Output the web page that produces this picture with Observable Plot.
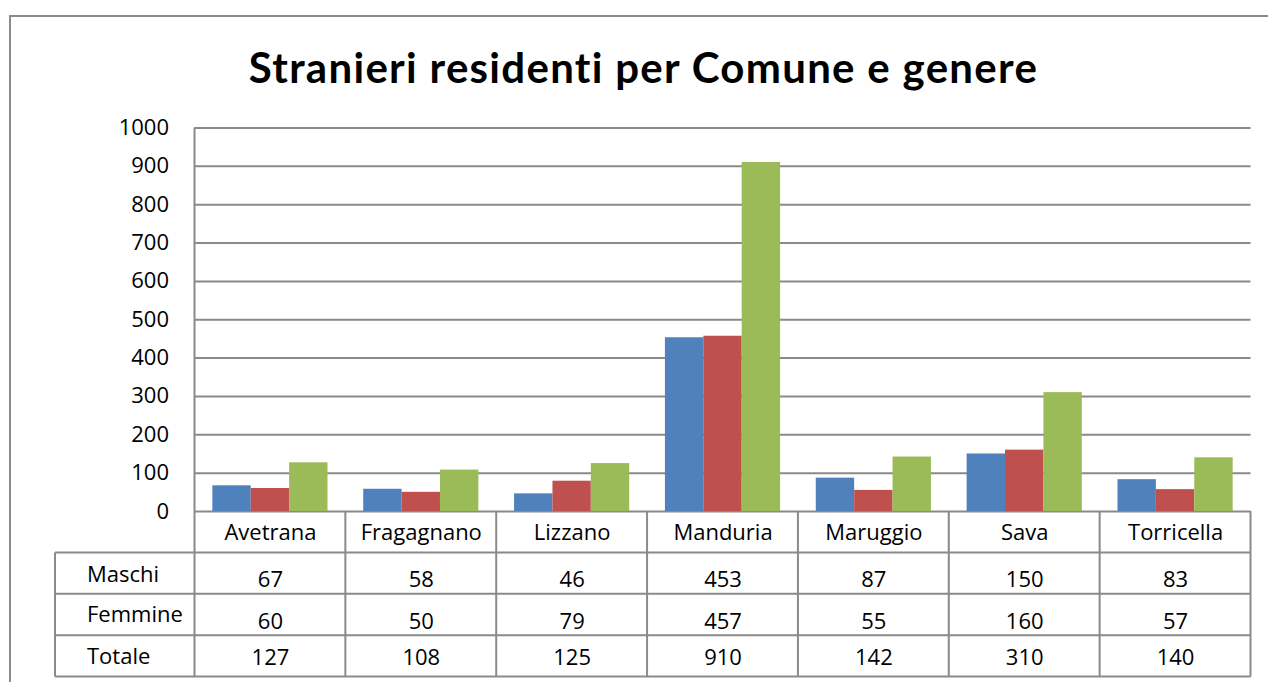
<!DOCTYPE html>
<html>
<head>
<meta charset="utf-8">
<script src="https://cdn.jsdelivr.net/npm/d3@7"></script>
<script src="https://cdn.jsdelivr.net/npm/@observablehq/plot@0.6"></script>
<style>
  html, body { margin: 0; padding: 0; background: #fff; width: 1268px; height: 682px; overflow: hidden; }
  #frame { position: absolute; left: 9px; top: 15px; width: 1300px; height: 700px;
           border-left: 2px solid #8b8b8b; border-top: 2px solid #8b8b8b; box-sizing: border-box; }
  #title { position: absolute; left: 0; top: 42px; width: 1287px; text-align: center;
           font-family: Lato, "Open Sans", sans-serif; font-weight: 700; font-size: 42px;
           line-height: 50px; color: #000; white-space: nowrap; }
  #chart { position: absolute; left: 0; top: 100px; }
</style>
</head>
<body>
<div id="frame"></div>
<div id="title"><span id="titleText">Stranieri residenti per Comune e genere</span></div>
<div id="chart"></div>
<script>
// ---- data ----
const comuni = ["Avetrana", "Fragagnano", "Lizzano", "Manduria", "Maruggio", "Sava", "Torricella"];
const maschi = [67, 58, 46, 453, 87, 150, 83];
const femmine = [60, 50, 79, 457, 55, 160, 57];
const totale = [127, 108, 125, 910, 142, 310, 140];
const serie = ["Maschi", "Femmine", "Totale"];
const colori = ["#4f81bd", "#c0504d", "#9bbb59"];
const yTicks = [0, 100, 200, 300, 400, 500, 600, 700, 800, 900, 1000];

// ---- layout ----
const W = 1268, H = 582, mL = 194.5, mR = 17.5, mT = 27.5, mB = 171;
const rowH = 41.4;
const gridColor = "#8a8a8a";
const step = (W - mL - mR) / comuni.length;
const inner = d3.scaleBand().domain(serie).range([0, step]).paddingInner(0).paddingOuter(0.465);
const valori = [maschi, femmine, totale];
const valueDy = [68, 110, 146.7];
const headerBaseline = [71.3, 110.7, 153.3];

const bars = serie.map((s, k) => Plot.barY(comuni, {
  x: d => d,
  y: (d, i) => valori[k][i],
  fill: colori[k],
  insetLeft: inner(s),
  insetRight: step - inner(s) - inner.bandwidth()
}));

const tableTexts = serie.map((s, k) => Plot.text(comuni, {
  x: d => d,
  y: () => 0,
  text: (d, i) => String(valori[k][i]),
  dy: valueDy[k],
  fill: "#000",
  fontSize: 22
}));

const chart = Plot.plot({
  width: W,
  height: H,
  marginLeft: mL,
  marginRight: mR,
  marginTop: mT,
  marginBottom: mB,
  style: { fontFamily: "'Open Sans', sans-serif", fontSize: "22px", color: "#000", background: "transparent", overflow: "visible" },
  x: { domain: comuni, padding: 0, round: false, tickSize: 0, tickPadding: 13, label: null },
  y: { domain: [0, 1000], ticks: yTicks, tickFormat: "d", tickSize: 0, tickPadding: 26, label: null },
  marks: [
    Plot.ruleY(yTicks, { stroke: gridColor, strokeWidth: 2 }),
    ...bars,
    ...tableTexts
  ]
});
document.getElementById("chart").appendChild(chart);

// ---- data table grid (uses Plot's scales) ----
const xs = chart.scale("x"), ys = chart.scale("y");
const y0 = ys.apply(0), yTop = ys.apply(1000);
const bw = xs.bandwidth !== undefined ? xs.bandwidth : step;
const right = xs.apply(comuni[comuni.length - 1]) + bw;
const tableLeft = 55;
const svg = d3.select(chart);
const g = svg.append("g").attr("stroke", gridColor).attr("stroke-width", 2).attr("fill", "none");
for (let k = 1; k <= 4; k++) {
  g.append("line").attr("x1", tableLeft).attr("x2", right)
    .attr("y1", y0 + rowH * k).attr("y2", y0 + rowH * k);
}
comuni.forEach((c, i) => {
  const xb = xs.apply(c);
  g.append("line").attr("x1", xb).attr("x2", xb)
    .attr("y1", i === 0 ? yTop : y0).attr("y2", y0 + rowH * 4);
});
g.append("line").attr("x1", right).attr("x2", right).attr("y1", y0).attr("y2", y0 + rowH * 4);
g.append("line").attr("x1", tableLeft).attr("x2", tableLeft).attr("y1", y0 + rowH).attr("y2", y0 + rowH * 4);

const t = svg.append("g").attr("font-size", 22).attr("fill", "#000").attr("text-anchor", "start");
serie.forEach((s, k) => {
  t.append("text").attr("x", 87).attr("y", y0 + headerBaseline[k]).attr("text-anchor", "start").text(s);
});

// ---- title width fit ----
const span = document.getElementById("titleText");
const w = span.getBoundingClientRect().width;
const target = 790;
const n = span.textContent.length;
span.style.letterSpacing = ((target - w) / n) + "px";
</script>
</body>
</html>
